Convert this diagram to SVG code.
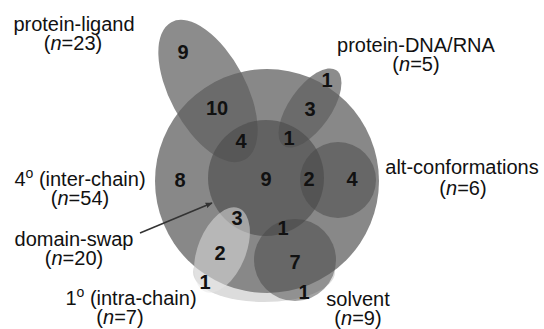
<svg xmlns="http://www.w3.org/2000/svg" width="544" height="329" viewBox="0 0 544 329">
<defs>
<style>
.lbl{font-family:"Liberation Sans",Arial,sans-serif;font-size:20px;fill:#111;text-anchor:middle}
.num{font-family:"Liberation Sans",Arial,sans-serif;font-size:20px;font-weight:bold;fill:#111;text-anchor:middle}
.hi{fill:#606060;fill-opacity:0.72}
.mid{fill:#464646;fill-opacity:0.5}
.it{font-style:italic}
</style>
<marker id="ah" viewBox="0 0 10 10" refX="9" refY="5" markerWidth="7" markerHeight="7" orient="auto" markerUnits="userSpaceOnUse">
<path d="M0,1 L10,5 L0,9 z" fill="#333"/>
</marker>
</defs>
<rect width="544" height="329" fill="#fff"/>
<g id="intra-chain-band"><ellipse cx="264" cy="272" rx="71" ry="30" fill="#dcdcdc"/></g>
<g id="inter-chain"><circle cx="267" cy="181" r="112" fill="#888"/></g>
<g id="protein-ligand"><ellipse class="hi" cx="0" cy="0" rx="78" ry="38" transform="translate(208 91) rotate(62)"/></g>
<g id="protein-dna-rna"><ellipse class="hi" cx="0" cy="0" rx="46" ry="21" transform="translate(310 108) rotate(-55)"/></g>
<g id="domain-swap"><circle cx="266" cy="178" r="58" fill="#4a4a4a" fill-opacity="0.6"/></g>
<g id="alt-conformations"><circle class="mid" cx="338" cy="180" r="38"/></g>
<g id="solvent"><circle class="mid" cx="295" cy="260" r="41"/></g>
<g id="intra-chain"><ellipse cx="0" cy="0" rx="45" ry="24" fill="#e6e6e6" fill-opacity="0.5" transform="translate(222 250) rotate(-68)"/></g>
<g id="connectors"><line x1="140" y1="233" x2="212" y2="203" stroke="#333" stroke-width="1.5" marker-end="url(#ah)"/></g>
<g id="numbers">
<text class="num" x="183" y="59">9</text>
<text class="num" x="217" y="115">10</text>
<text class="num" x="241" y="148">4</text>
<text class="num" x="327" y="87">1</text>
<text class="num" x="310" y="116">3</text>
<text class="num" x="289" y="145">1</text>
<text class="num" x="180" y="187">8</text>
<text class="num" x="266" y="186">9</text>
<text class="num" x="309" y="186">2</text>
<text class="num" x="352" y="186">4</text>
<text class="num" x="237" y="225">3</text>
<text class="num" x="283" y="235">1</text>
<text class="num" x="220" y="260">2</text>
<text class="num" x="295" y="269">7</text>
<text class="num" x="205" y="289">1</text>
<text class="num" x="304" y="299">1</text>
</g>
<g id="labels">
<text class="lbl"><tspan x="74" y="31">protein-ligand</tspan><tspan x="73" y="50">(<tspan class="it">n</tspan>=23)</tspan></text>
<text class="lbl"><tspan x="416" y="52">protein-DNA/RNA</tspan><tspan x="416" y="71">(<tspan class="it">n</tspan>=5)</tspan></text>
<text class="lbl"><tspan x="462" y="174">alt-conformations</tspan><tspan x="463" y="195">(<tspan class="it">n</tspan>=6)</tspan></text>
<text class="lbl"><tspan x="80" y="186">4<tspan font-size="14" dy="-8">o</tspan><tspan dy="8"> (inter-chain)</tspan></tspan><tspan x="80" y="205">(<tspan class="it">n</tspan>=54)</tspan></text>
<text class="lbl"><tspan x="74" y="246">domain-swap</tspan><tspan x="74" y="265">(<tspan class="it">n</tspan>=20)</tspan></text>
<text class="lbl"><tspan x="131" y="305">1<tspan font-size="14" dy="-8">o</tspan><tspan dy="8"> (intra-chain)</tspan></tspan><tspan x="120" y="324">(<tspan class="it">n</tspan>=7)</tspan></text>
<text class="lbl"><tspan x="358" y="306">solvent</tspan><tspan x="358" y="325">(<tspan class="it">n</tspan>=9)</tspan></text>
</g>
</svg>
